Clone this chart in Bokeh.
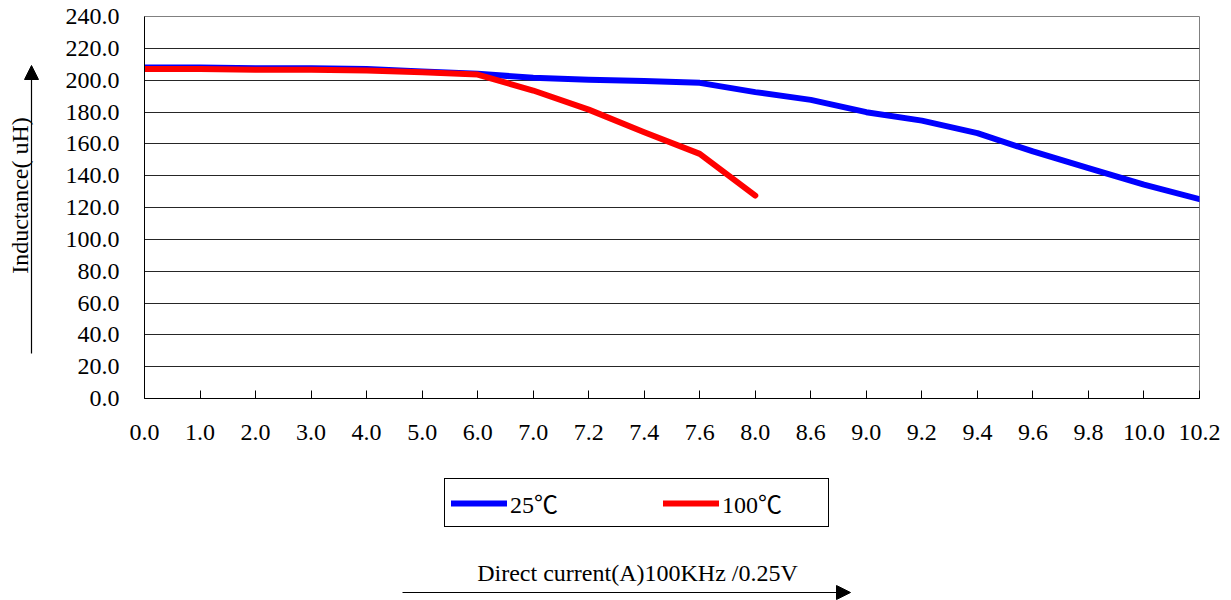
import math
from bokeh.plotting import figure
from bokeh.layouts import column, row
from bokeh.models import (Range1d, FixedTicker, NumeralTickFormatter, Legend, LegendItem,
                          Label, Arrow, NormalHead, ColumnDataSource)
from bokeh.embed import file_html
from bokeh.resources import INLINE

# ---- data ----
currents = ["0.0", "1.0", "2.0", "3.0", "4.0", "5.0", "6.0", "7.0", "7.2", "7.4",
            "7.6", "8.0", "8.6", "9.0", "9.2", "9.4", "9.6", "9.8", "10.0", "10.2"]
ind_25c = [208.0, 208.0, 207.5, 207.5, 207.0, 205.5, 204.0, 201.5, 200.2, 199.4,
           198.3, 192.5, 187.6, 179.9, 174.6, 166.7, 155.2, 144.7, 134.4, 125.2]
ind_100c = [207.0, 207.0, 206.5, 206.5, 206.0, 205.0, 203.5, 193.5, 181.5, 167.3,
            153.7, 127.5]
series_names = ["25℃", "100℃"]
y_ticks = list(range(0, 241, 20))
y_title = "Inductance( uH)"
x_title = "Direct  current(A)100KHz /0.25V"

FONT = "'Liberation Serif', 'Noto Sans CJK SC'"
FS = "24px"

TOTAL_W = 1231
LEFT_W = 44
MAIN_H = 470
BOT_H = 130
TOP_B, BOT_B = 16, 72

src25 = ColumnDataSource(dict(x=list(range(len(ind_25c))), y=ind_25c))
src100 = ColumnDataSource(dict(x=list(range(len(ind_100c))), y=ind_100c))
style25 = dict(line_color="#0000FF", line_width=6, line_cap="round", line_join="round")
style100 = dict(line_color="#FF0000", line_width=6, line_cap="round", line_join="round")

# ---------------- main chart ----------------
p = figure(width=TOTAL_W - LEFT_W, height=MAIN_H, output_backend="svg", toolbar_location=None,
           x_range=Range1d(0, len(currents) - 1), y_range=Range1d(0, 240),
           min_border_left=100, min_border_right=32, min_border_top=TOP_B,
           min_border_bottom=BOT_B)
p.background_fill_color = "white"
p.border_fill_color = "white"
p.outline_line_color = "#808080"
p.outline_line_width = 1

xa = p.xaxis[0]
xa.ticker = FixedTicker(ticks=list(range(len(currents))))
xa.major_label_overrides = {i: c for i, c in enumerate(currents)}
xa.major_tick_in = 8
xa.major_tick_out = 0
xa.minor_tick_line_color = None
xa.axis_line_color = "black"
xa.major_tick_line_color = "black"
xa.major_label_standoff = 26
xa.major_label_text_font = FONT
xa.major_label_text_font_size = FS
xa.major_label_text_color = "black"

ya = p.yaxis[0]
ya.ticker = FixedTicker(ticks=y_ticks)
ya.formatter = NumeralTickFormatter(format="0.0")
ya.major_tick_in = 0
ya.major_tick_out = 0
ya.minor_tick_line_color = None
ya.axis_line_color = "black"
ya.major_label_standoff = 25
ya.major_label_text_font = FONT
ya.major_label_text_font_size = FS
ya.major_label_text_color = "black"

p.xgrid.grid_line_color = None
p.ygrid.ticker = FixedTicker(ticks=y_ticks)
p.ygrid.grid_line_color = "black"
p.ygrid.grid_line_width = 1
p.ygrid.grid_line_alpha = 0.85

r1 = p.line("x", "y", source=src25, **style25)
r2 = p.line("x", "y", source=src100, **style100)

# ---------------- left strip: y title + arrow (page-pixel coordinates) ----------------
lf = figure(width=LEFT_W, height=MAIN_H, output_backend="svg", toolbar_location=None,
            x_range=Range1d(0, LEFT_W), y_range=Range1d(MAIN_H - BOT_B, TOP_B),
            x_axis_type=None, y_axis_type=None,
            min_border_left=0, min_border_right=0, min_border_top=TOP_B,
            min_border_bottom=BOT_B)
lf.outline_line_color = None
lf.background_fill_color = "white"
lf.border_fill_color = "white"
lf.add_layout(Label(x=19, y=195, text=y_title, angle=math.pi / 2,
                    text_align="center", text_baseline="middle",
                    text_font=FONT, text_font_size=FS, text_color="black"))
lf.add_layout(Arrow(x_start=31, y_start=353, x_end=31, y_end=65,
                    line_color="black", line_width=1.2,
                    end=NormalHead(size=14, fill_color="black", line_color="black")))

# ---------------- bottom strip: legend, x title, arrow ----------------
bf = figure(width=TOTAL_W, height=BOT_H, output_backend="svg", toolbar_location=None,
            x_range=Range1d(0, TOTAL_W), y_range=Range1d(BOT_H, 0),
            x_axis_type=None, y_axis_type=None, min_border=0)
bf.outline_line_color = None
bf.background_fill_color = "white"
bf.border_fill_color = "white"
bf.extra_y_ranges = {"series": Range1d(0, 240)}
bf.extra_x_ranges = {"series": Range1d(100, 119)}   # keeps the series out of this strip's view
lr1 = bf.line("x", "y", source=src25, x_range_name="series", y_range_name="series", **style25)
lr2 = bf.line("x", "y", source=src100, x_range_name="series", y_range_name="series", **style100)

legend = Legend(items=[LegendItem(label=series_names[0], renderers=[lr1]),
                       LegendItem(label=series_names[1], renderers=[lr2])],
                orientation="horizontal", glyph_width=56, glyph_height=20,
                label_standoff=3, label_width=100, spacing=53, margin=0, padding=6,
                location=(444, BOT_H - 57),
                border_line_color="black", border_line_width=1, border_line_alpha=1,
                background_fill_color="white", background_fill_alpha=1,
                inactive_fill_alpha=0,
                label_text_font=FONT, label_text_font_size=FS, label_text_color="black")
bf.add_layout(legend)

bf.add_layout(Label(x=640, y=102, text=x_title,
                    text_align="center", text_baseline="middle",
                    text_font=FONT, text_font_size=FS, text_color="black"))
bf.add_layout(Arrow(x_start=402, y_start=122, x_end=850, y_end=122,
                    line_color="black", line_width=1.2,
                    end=NormalHead(size=14, fill_color="black", line_color="black")))

layout = column(row(lf, p, spacing=0), bf, spacing=0)

open("out.html", "w").write(file_html(layout, INLINE))
